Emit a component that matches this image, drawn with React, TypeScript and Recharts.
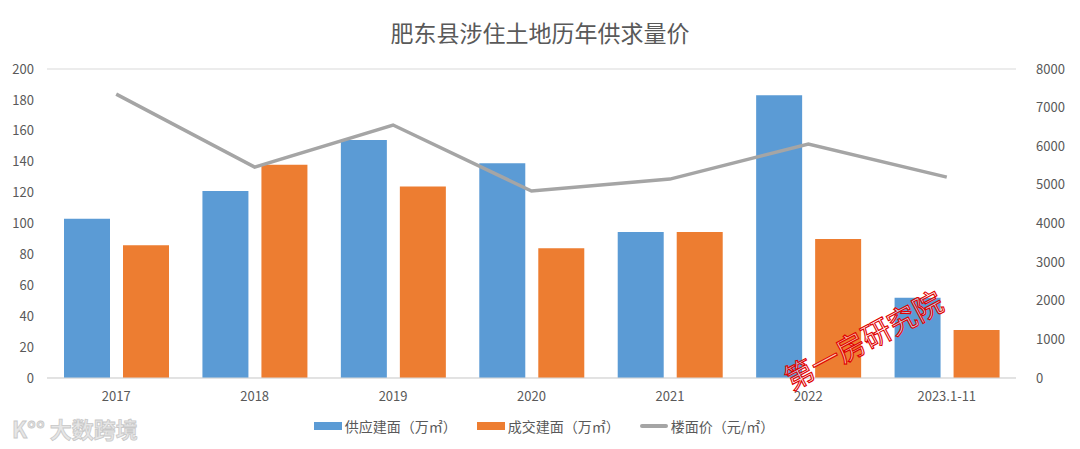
import React from "react";
import {
  Bar,
  CartesianGrid,
  ComposedChart,
  Line,
  XAxis,
  YAxis,
} from "recharts";

const years = ["2017", "2018", "2019", "2020", "2021", "2022", "2023.1-11"];
const supplyArea = [103, 121, 154, 139, 94.5, 183, 52];
const dealArea = [86, 138, 124, 84, 94.5, 90, 31];
const floorPrice = [7350, 5460, 6550, 4840, 5150, 6060, 5200];

const leftTicks = [0, 20, 40, 60, 80, 100, 120, 140, 160, 180, 200];
const rightTicks = [0, 1000, 2000, 3000, 4000, 5000, 6000, 7000, 8000];

const seriesInfo = [
  { key: "supply", name: "供应建面（万㎡）", color: "#5B9BD5", type: "rect" },
  { key: "deal", name: "成交建面（万㎡）", color: "#ED7D31", type: "rect" },
  { key: "price", name: "楼面价（元/㎡）", color: "#A5A5A5", type: "line" },
];

const data = years.map((name, i) => ({
  name,
  supply: supplyArea[i],
  deal: dealArea[i],
  price: floorPrice[i],
}));

const FONT = '"Noto Sans CJK SC", "Noto Sans", sans-serif';
const tickStyle = { fontSize: 13, fill: "#595959", fontFamily: FONT };

// legend sits below the chart, outside recharts so it doesn't shrink the plot
const LegendBox = () => (
  <div
    style={{
      position: "absolute",
      top: 416,
      left: 0,
      width: 1080,
      display: "flex",
      justifyContent: "center",
      gap: 20,
      fontFamily: FONT,
      fontSize: 14,
      color: "#595959",
      paddingLeft: 8,
      boxSizing: "border-box",
    }}
  >
    {seriesInfo.map((s) => (
      <div key={s.key} style={{ display: "flex", alignItems: "center" }}>
        <span
          style={{
            display: "inline-block",
            width: 28,
            height: s.type === "rect" ? 8 : 4,
            borderRadius: s.type === "rect" ? 0 : 2,
            background: s.color,
            marginRight: 3,
          }}
        />
        <span>{s.name}</span>
      </div>
    ))}
  </div>
);

export default function App() {
  return (
    <div
      style={{
        position: "relative",
        width: 1080,
        height: 449,
        background: "#fff",
        overflow: "hidden",
      }}
    >
      <style>{`body{margin:0}`}</style>
      <div
        style={{
          position: "absolute",
          top: 15,
          left: 0,
          width: 1080,
          textAlign: "center",
          fontFamily: FONT,
          fontSize: 23,
          color: "#595959",
        }}
      >
        肥东县涉住土地历年供求量价
      </div>
      <ComposedChart
        width={1080}
        height={449}
        data={data}
        margin={{ top: 69, right: 0, bottom: 41, left: 0 }}
        barGap={13}
        barSize={46}
      >
        <CartesianGrid vertical={false} stroke="#D9D9D9" />
        <XAxis
          dataKey="name"
          height={30}
          tick={tickStyle}
          tickLine={false}
          axisLine={{ stroke: "#D9D9D9" }}
          tickMargin={8}
        />
        <YAxis
          yAxisId="left"
          width={47}
          domain={[0, 200]}
          ticks={leftTicks}
          tick={tickStyle}
          tickLine={false}
          axisLine={false}
          tickSize={0}
          tickMargin={13}
        />
        <YAxis
          yAxisId="right"
          orientation="right"
          width={64}
          domain={[0, 8000]}
          ticks={rightTicks}
          tick={{ ...tickStyle, textAnchor: "start" }}
          tickLine={false}
          axisLine={false}
          tickSize={0}
          tickMargin={20}
        />
        <Bar
          yAxisId="left"
          dataKey="supply"
          name={seriesInfo[0].name}
          fill={seriesInfo[0].color}
          isAnimationActive={false}
        />
        <Bar
          yAxisId="left"
          dataKey="deal"
          name={seriesInfo[1].name}
          fill={seriesInfo[1].color}
          isAnimationActive={false}
        />
        <Line
          yAxisId="right"
          dataKey="price"
          name={seriesInfo[2].name}
          stroke={seriesInfo[2].color}
          strokeWidth={3.5}
          dot={false}
          type="linear"
          isAnimationActive={false}
        />
      </ComposedChart>
      <LegendBox />
      {/* watermarks */}
      <svg
        width={1080}
        height={449}
        style={{ position: "absolute", left: 0, top: 0, pointerEvents: "none" }}
      >
        <text
          x={864}
          y={351}
          textAnchor="middle"
          fontFamily={FONT}
          fontSize={29}
          fill="rgba(255,255,255,0.6)"
          stroke="#E00000"
          strokeWidth={1.1}
          transform="rotate(-28 864 341)"
        >
          第一房研究院
        </text>
        <text
          x={12}
          y={438}
          fontFamily={FONT}
          fontSize={22}
          fontWeight={700}
          fill="#E6E6E6"
          stroke="#C8C8C8"
          strokeWidth={0.8}
        >
          K°° 大数跨境
        </text>
      </svg>
    </div>
  );
}
